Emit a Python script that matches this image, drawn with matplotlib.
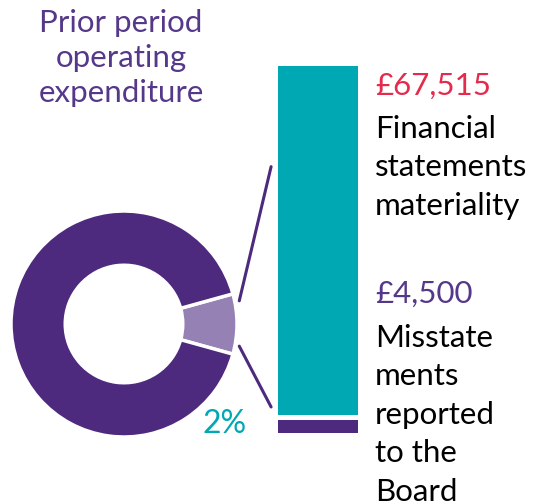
import matplotlib.pyplot as plt
from matplotlib.patches import ConnectionPatch

# shares as drawn (the small wedge is exaggerated in the original graphic)
donut_labels = ['Materiality', 'Rest of expenditure']
donut_values = [8.6, 91.4]
donut_pct_label = '2%'

# stacked bar, visual heights
bar_labels = ['Misstatements reported to the Board', 'Financial statements materiality']
bar_values = [4.8, 95.2]
amounts = ['£4,500', '£67,515']

PURPLE = '#4E2A7E'
LIGHT_PURPLE = '#9581B4'
TEAL = '#00A8B4'
RED = '#E52A4C'
TXT_PURPLE = '#55388A'

plt.rcParams['font.family'] = ['Lato', 'DejaVu Sans']

W, H = 533, 502
fig = plt.figure(figsize=(W / 100, H / 100), dpi=100)


def px_box(x0, y0, x1, y1):
    return [x0 / W, 1 - y1 / H, (x1 - x0) / W, (y1 - y0) / H]


def text_lines(x, y_first, step, lines, **kw):
    # one text per line so the baselines sit where they should
    for i, line in enumerate(lines):
        fig.text(x / W, 1 - (y_first + i * step) / H, line, va='baseline', **kw)


# donut
cx, cy, r = 124, 325, 113
ax_pie = fig.add_axes(px_box(cx - r, cy - r, cx + r, cy + r))
ax_pie.pie(donut_values, colors=[LIGHT_PURPLE, PURPLE], radius=1,
           startangle=-donut_values[0] / 100 * 360 / 2, counterclock=True,
           wedgeprops=dict(width=0.48, edgecolor='white', linewidth=2.5))
ax_pie.set_xlim(-1, 1)
ax_pie.set_ylim(-1, 1)
ax_pie.set_aspect('equal')
ax_pie.axis('off')

# stacked bar
ax_bar = fig.add_axes(px_box(274.5, 63.5, 359.5, 435.5))
ax_bar.bar([0], [bar_values[0]], width=1, color=PURPLE,
           edgecolor='white', linewidth=3.6)
ax_bar.bar([0], [bar_values[1]], width=1, bottom=[bar_values[0]], color=TEAL,
           edgecolor='white', linewidth=3.6)
ax_bar.set_xlim(-0.5, 0.5)
ax_bar.set_ylim(0, sum(bar_values))
ax_bar.axis('off')

# connector lines
for pa, pb in [((1.02, 0.205), (-0.04, 0.72)), ((1.02, -0.196), (-0.04, 0.074))]:
    con = ConnectionPatch(xyA=pa, coordsA=ax_pie.transData,
                          xyB=pb, coordsB=ax_bar.transAxes,
                          color=PURPLE, linewidth=2.2)
    fig.add_artist(con)

# texts
text_lines(121, 32, 35, ['Prior period', 'operating', 'expenditure'],
           ha='center', fontsize=22.5, color=TXT_PURPLE)
fig.text(225 / W, 1 - 433 / H, donut_pct_label, ha='center', va='baseline',
         fontsize=23, color=TEAL)

text_lines(375, 95, 39, [amounts[1]], ha='left', fontsize=22.5, color=RED)
text_lines(375, 138, 38.5, ['Financial', 'statements', 'materiality'],
           ha='left', fontsize=22.5, color='black')
text_lines(375, 303, 39, [amounts[0]], ha='left', fontsize=22.5, color=TXT_PURPLE)
text_lines(375, 347, 38.5, ['Misstate', 'ments', 'reported', 'to the', 'Board'],
           ha='left', fontsize=22.5, color='black')

fig.savefig('out.png', dpi=100)
